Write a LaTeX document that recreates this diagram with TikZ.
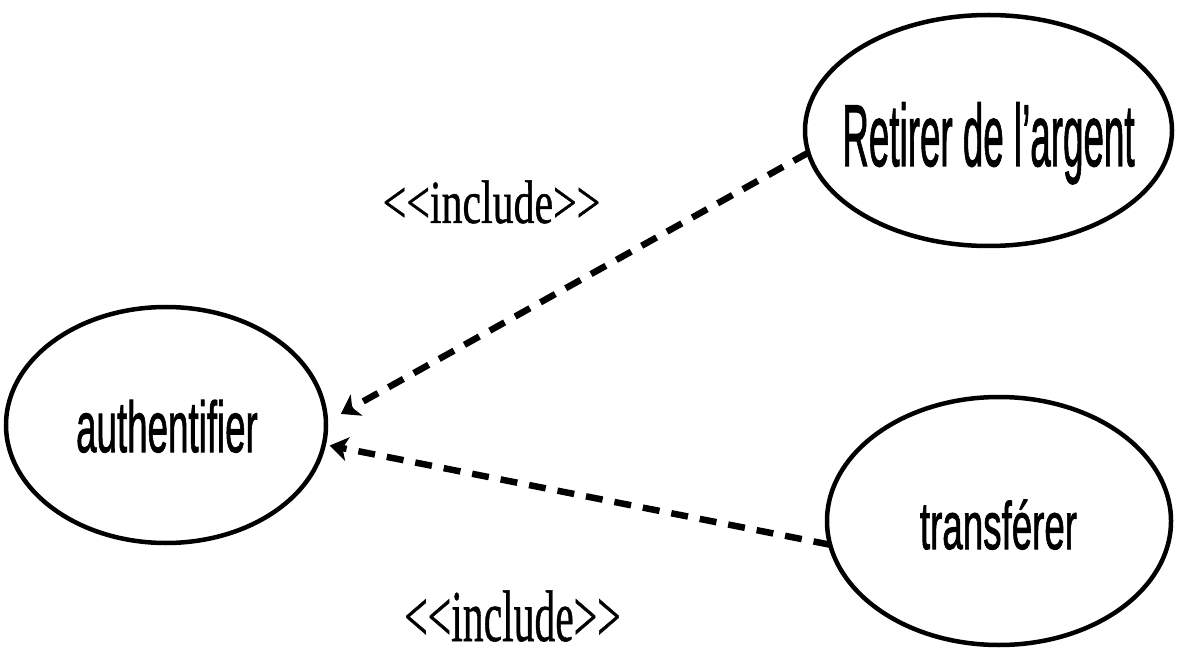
\documentclass[tikz,border=0pt]{standalone}
\usepackage{fontspec}
\usetikzlibrary{shapes.geometric,arrows.meta}
\newfontfamily\ucsans[FakeBold=1.5]{Liberation Sans}
\newfontfamily\ucserif[FakeBold=0.8]{Liberation Serif}
\newcommand{\uclabel}[3]{\scalebox{#2}[1]{\ucsans\fontsize{#1}{#1}\selectfont #3}}
\newcommand{\inclabel}[2]{\scalebox{#2}[1]{\ucserif\fontsize{#1}{#1}\selectfont <<include>>}}
\tikzset{
  usecase/.style={draw=black, line width=4.5pt, ellipse, inner sep=0pt, outer sep=0pt},
  incl/.style={draw=black, line width=6.5pt, dash pattern=on 17pt off 12pt,
    -{Stealth[length=18pt,width=24pt,inset=5pt]}},
  txt/.style={anchor=base, inner sep=0pt}
}
\begin{document}
\begin{tikzpicture}[x=1pt,y=-1pt]
\useasboundingbox (0,0) rectangle (1178,652);
\node[usecase, minimum width=320pt, minimum height=236pt] (auth) at (166,425) {};
\node[usecase, minimum width=367pt, minimum height=231pt] (ret) at (988.5,130.5) {};
\node[usecase, minimum width=344pt, minimum height=248pt] (trans) at (999,521) {};
\node[txt] (authT) at (167,452) {\uclabel{72}{0.51}{authentifier}};
\node[txt] (retT) at (988.5,166) {\uclabel{88}{0.418}{Retirer de l’argent}};
\node[txt] (transT) at (998.5,549) {\uclabel{67}{0.548}{transférer}};
\node[txt] (inc1) at (491.5,223) {\inclabel{61.5}{0.68}};
\node[txt] (inc2) at (512.5,641) {\inclabel{73}{0.57}};
\draw[incl, shorten >=17pt] (ret.187) -- (auth.1);
\draw[incl, shorten >=6pt] (trans.188) -- (auth.-7);
\end{tikzpicture}
\end{document}
